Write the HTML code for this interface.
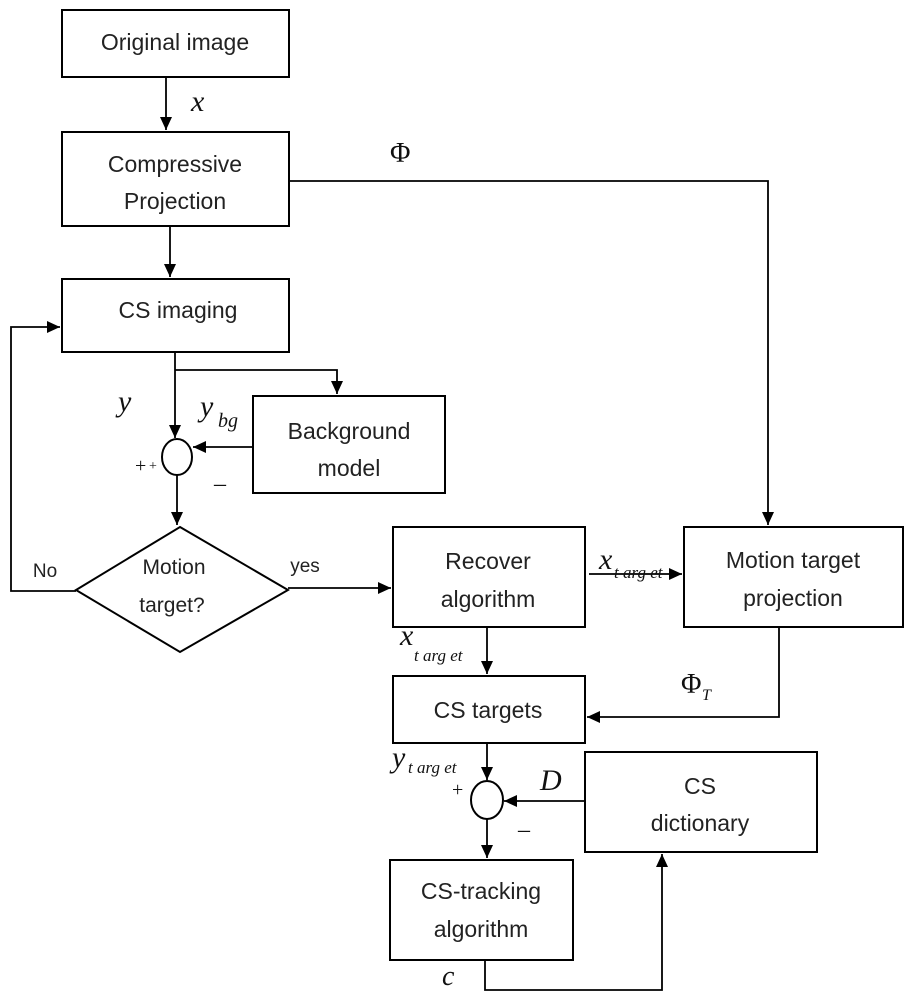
<!DOCTYPE html>
<html><head><meta charset="utf-8"><style>
body{margin:0;background:#fff}
svg{display:block}
.t{font-family:"Liberation Sans",sans-serif;font-size:23px;fill:#222;text-anchor:middle}
.m{font-family:"Liberation Serif",serif;font-style:italic;fill:#111}
.s{font-family:"Liberation Serif",serif;fill:#111}
</style></head><body>
<svg width="915" height="1000" viewBox="0 0 915 1000" xmlns="http://www.w3.org/2000/svg">
<defs><marker id="a" markerWidth="14" markerHeight="14" refX="13" refY="6" orient="auto" markerUnits="userSpaceOnUse"><path d="M0,0 L13,6 L0,12 z" fill="#000"/></marker></defs>
<g fill="none" stroke="#000" stroke-width="2">
<rect x="62" y="10" width="227" height="67"/>
<rect x="62" y="132" width="227" height="94"/>
<rect x="62" y="279" width="227" height="73"/>
<rect x="253" y="396" width="192" height="97"/>
<rect x="393" y="527" width="192" height="100"/>
<rect x="684" y="527" width="219" height="100"/>
<rect x="393" y="676" width="192" height="67"/>
<rect x="585" y="752" width="232" height="100"/>
<rect x="390" y="860" width="183" height="100"/>
<ellipse cx="177" cy="457" rx="15" ry="18"/>
<ellipse cx="487" cy="800" rx="16" ry="19"/>
<polygon points="180,527 288,590 180,652 76,590"/>
<g stroke-width="1.8">
<line x1="166" y1="77" x2="166" y2="130" marker-end="url(#a)"/>
<line x1="170" y1="226" x2="170" y2="277" marker-end="url(#a)"/>
<polyline points="289,181 768,181 768,525" marker-end="url(#a)"/>
<line x1="175" y1="352" x2="175" y2="438" marker-end="url(#a)"/>
<polyline points="175,370 337,370 337,394" marker-end="url(#a)"/>
<line x1="253" y1="447" x2="193" y2="447" marker-end="url(#a)"/>
<line x1="177" y1="475" x2="177" y2="525" marker-end="url(#a)"/>
<polyline points="76,591 11,591 11,327 60,327" marker-end="url(#a)"/>
<line x1="288" y1="588" x2="391" y2="588" marker-end="url(#a)"/>
<line x1="589" y1="574" x2="682" y2="574" marker-end="url(#a)"/>
<line x1="487" y1="627" x2="487" y2="674" marker-end="url(#a)"/>
<polyline points="779,627 779,717 587,717" marker-end="url(#a)"/>
<line x1="487" y1="743" x2="487" y2="780" marker-end="url(#a)"/>
<line x1="585" y1="801" x2="504" y2="801" marker-end="url(#a)"/>
<line x1="487" y1="819" x2="487" y2="858" marker-end="url(#a)"/>
<polyline points="485,960 485,990 662,990 662,854" marker-end="url(#a)"/>
</g></g>
<text class="t" x="175" y="50">Original image</text>
<text class="t" x="175" y="172">Compressive</text>
<text class="t" x="175" y="209">Projection</text>
<text class="t" x="178" y="318">CS imaging</text>
<text class="t" x="349" y="439">Background</text>
<text class="t" x="349" y="476">model</text>
<text class="t" x="174" y="574" style="font-size:21px">Motion</text>
<text class="t" x="172" y="612" style="font-size:21px">target?</text>
<text class="t" x="45" y="577" style="font-size:19px">No</text>
<text class="t" x="305" y="572" style="font-size:19px">yes</text>
<text class="t" x="488" y="569">Recover</text>
<text class="t" x="488" y="607">algorithm</text>
<text class="t" x="793" y="568">Motion target</text>
<text class="t" x="793" y="606">projection</text>
<text class="t" x="488" y="718">CS targets</text>
<text class="t" x="700" y="794">CS</text>
<text class="t" x="700" y="831">dictionary</text>
<text class="t" x="481" y="899">CS-tracking</text>
<text class="t" x="481" y="937">algorithm</text>
<text class="m" x="191" y="111" font-size="30">x</text>
<text class="s" x="390" y="162" font-size="28">Φ</text>
<text class="m" x="118" y="411" font-size="30">y</text>
<text class="m" x="200" y="416" font-size="30">y</text><text class="m" x="218" y="427" font-size="20">bg</text>
<text class="s" x="135" y="472" font-size="20">+</text><text class="s" x="149" y="470" font-size="14">+</text>
<text class="s" x="214" y="491" font-size="24">–</text>
<text class="m" x="599" y="569" font-size="30">x</text><text class="m" x="614" y="578" font-size="17">t arg et</text>
<text class="m" x="400" y="645" font-size="30">x</text><text class="m" x="414" y="661" font-size="17">t arg et</text>
<text class="s" x="681" y="693" font-size="28">Φ</text><text class="m" x="702" y="700" font-size="16">T</text>
<text class="m" x="392" y="767" font-size="30">y</text><text class="m" x="408" y="773" font-size="17">t arg et</text>
<text class="s" x="452" y="796" font-size="20">+</text>
<text class="m" x="540" y="790" font-size="30">D</text>
<text class="s" x="518" y="837" font-size="24">–</text>
<text class="m" x="442" y="985" font-size="28">c</text>
</svg>
</body></html>
